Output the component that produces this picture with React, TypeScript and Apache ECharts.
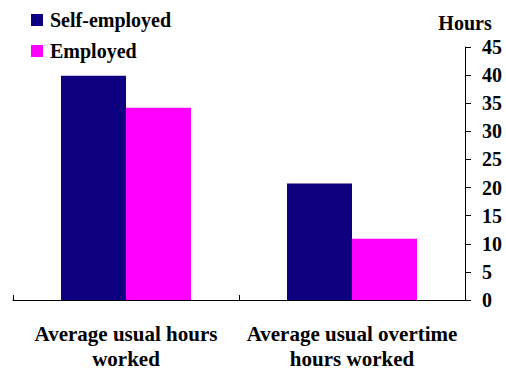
import React, { useEffect, useRef } from "react";
import * as echarts from "echarts";

const categories = ["Average usual hours\nworked", "Average usual overtime\nhours worked"];
const selfEmployed = [39.9, 20.7];
const employed = [34.2, 10.9];
const seriesNames = ["Self-employed", "Employed"];
const yTicksMax = 45;

const FONT = "Liberation Serif";
const FS = 20;

export default function App() {
  const ref = useRef<HTMLDivElement>(null);
  useEffect(() => {
    if (!ref.current) return;
    const chart = echarts.init(ref.current, undefined, { renderer: "svg" });
    chart.setOption({
      animation: false,
      backgroundColor: "#ffffff",
      textStyle: { fontFamily: FONT },
      legend: {
        orient: "vertical",
        left: 31,
        top: 10,
        padding: 0,
        itemWidth: 12,
        itemHeight: 12,
        itemGap: 11,
        icon: "rect",
        data: seriesNames,
        textStyle: { fontFamily: FONT, fontWeight: "bold", fontSize: FS, color: "#000", lineHeight: 20, padding: [0, 0, 0, 2] },
      },
      grid: { left: 13, right: 41, top: 47, bottom: 73, containLabel: false },
      xAxis: {
        type: "category",
        data: categories,
        axisLine: { show: true, lineStyle: { color: "#000", width: 1 } },
        axisTick: { show: true, inside: true, length: 5, lineStyle: { color: "#000" } },
        axisLabel: {
          interval: 0,
          margin: 21,
          fontFamily: FONT,
          fontWeight: "bold",
          fontSize: 21,
          color: "#000",
          lineHeight: 25,
        },
      },
      yAxis: {
        type: "value",
        position: "right",
        min: 0,
        max: yTicksMax,
        interval: 5,
        name: "Hours",
        nameLocation: "end",
        nameGap: 14,
        nameTextStyle: { fontFamily: FONT, fontWeight: "bold", fontSize: FS, color: "#000", align: "center" },
        splitLine: { show: false },
        axisLine: { show: true, lineStyle: { color: "#000", width: 1 } },
        axisTick: { show: true, inside: false, length: 6, lineStyle: { color: "#000" } },
        axisLabel: { margin: 17, fontFamily: FONT, fontWeight: "bold", fontSize: FS, color: "#000" },
      },
      series: [
        {
          name: seriesNames[0],
          type: "bar",
          data: selfEmployed,
          barWidth: 65,
          barGap: "0%",
          itemStyle: { color: "#0d0080" },
        },
        {
          name: seriesNames[1],
          type: "bar",
          data: employed,
          barWidth: 65,
          barGap: "0%",
          itemStyle: { color: "#ff00ff" },
        },
      ],
    });
    return () => chart.dispose();
  }, []);
  return <div ref={ref} style={{ width: 506, height: 373, position: "absolute", left: 0, top: 0 }} />;
}
